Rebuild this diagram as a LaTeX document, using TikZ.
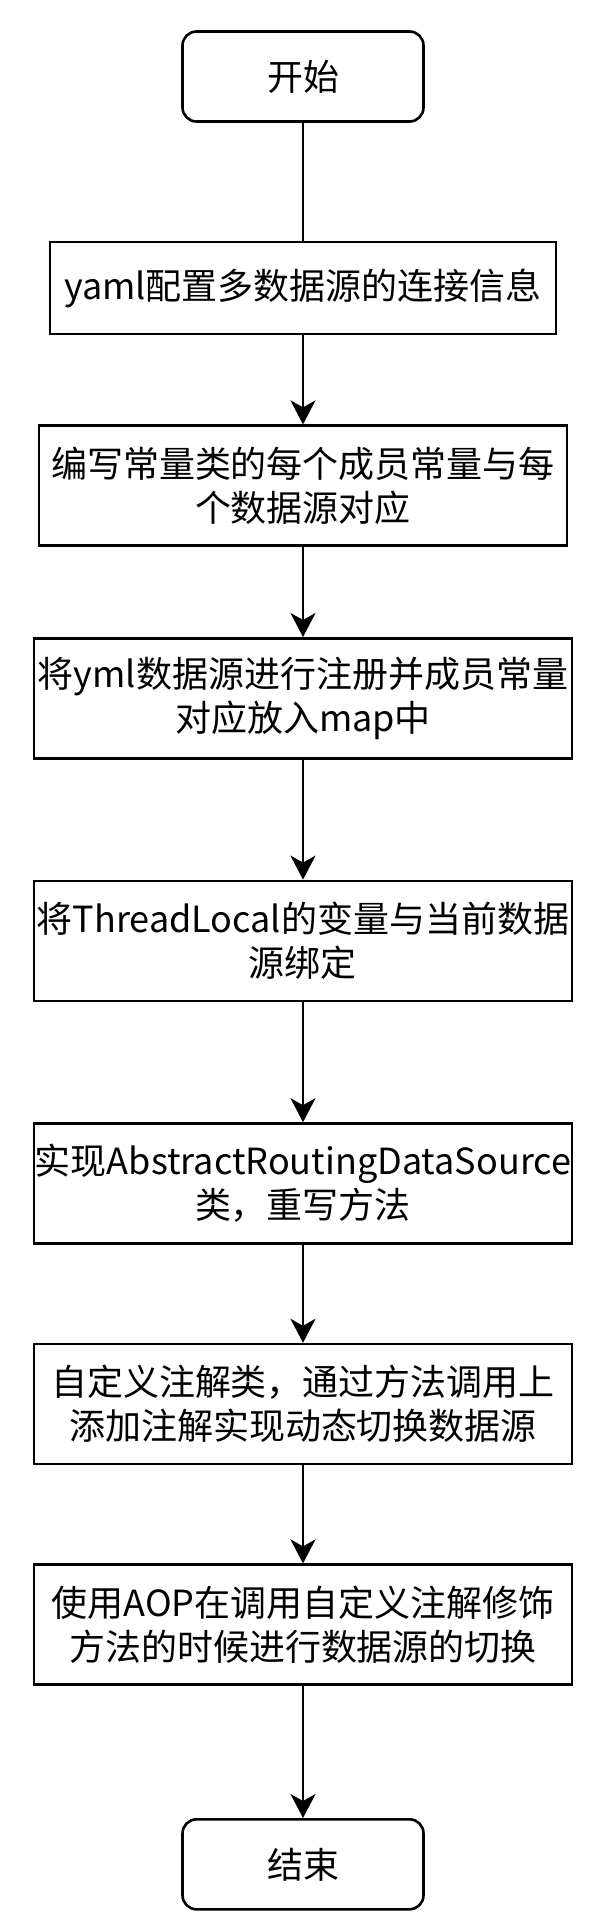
\documentclass[tikz,border=0pt]{standalone}
\usepackage{fontspec}
\setmainfont{Noto Sans CJK SC}
\usepackage{xcolor}
\usepackage{tikz}
\usetikzlibrary{positioning,arrows.meta}
\newcommand{\flowfont}{\fontsize{36}{44}\selectfont\lineskiplimit=-30pt\lineskip=0pt}
\tikzset{
  termbox/.style={rounded corners=14pt, draw=black, line width=2.6pt, align=center, minimum width=241pt, minimum height=90pt, inner sep=0pt, font=\flowfont},
  stepbox/.style={draw=black, line width=2.6pt, align=center, minimum width=538pt, minimum height=120pt, inner sep=0pt, font=\flowfont},
  flowline/.style={line width=2.6pt, draw=black},
  flowarr/.style={flowline, -{Stealth[length=24pt, width=25pt, inset=7pt]}}
}

\begin{document}
\begin{tikzpicture}[x=1pt, y=1pt]
\useasboundingbox (0,0) rectangle (600,-1923);
\node[termbox] (start) at (303,-76.5) {开始};
\node[stepbox, minimum width=506pt, minimum height=92pt, below=118pt of start] (yaml) {yaml配置多数据源的连接信息};
\node[stepbox, minimum width=528pt, below=89pt of yaml] (const) {编写常量类的每个成员常量与每\\个数据源对应};
\node[stepbox, below=90pt of const] (reg) {将yml数据源进行注册并成员常量\\对应放入map中};
\node[stepbox, below=120pt of reg] (bind) {将ThreadLocal的变量与当前数据\\源绑定};
\node[stepbox, below=120pt of bind] (route) {实现AbstractRoutingDataSource\\类，重写方法};
\node[stepbox, below=98pt of route] (anno) {自定义注解类，通过方法调用上\\添加注解实现动态切换数据源};
\node[stepbox, below=98pt of anno] (aop) {使用AOP在调用自定义注解修饰\\方法的时候进行数据源的切换};
\node[termbox, below=132pt of aop] (stop) {结束};
% connectors
\draw[flowline] (start) -- (yaml);
\draw[flowarr] (yaml) -- (const);
\draw[flowarr] (const) -- (reg);
\draw[flowarr] (reg) -- (bind);
\draw[flowarr] (bind) -- (route);
\draw[flowarr] (route) -- (anno);
\draw[flowarr] (anno) -- (aop);
\draw[flowarr] (aop) -- (stop);
\end{tikzpicture}
\end{document}
